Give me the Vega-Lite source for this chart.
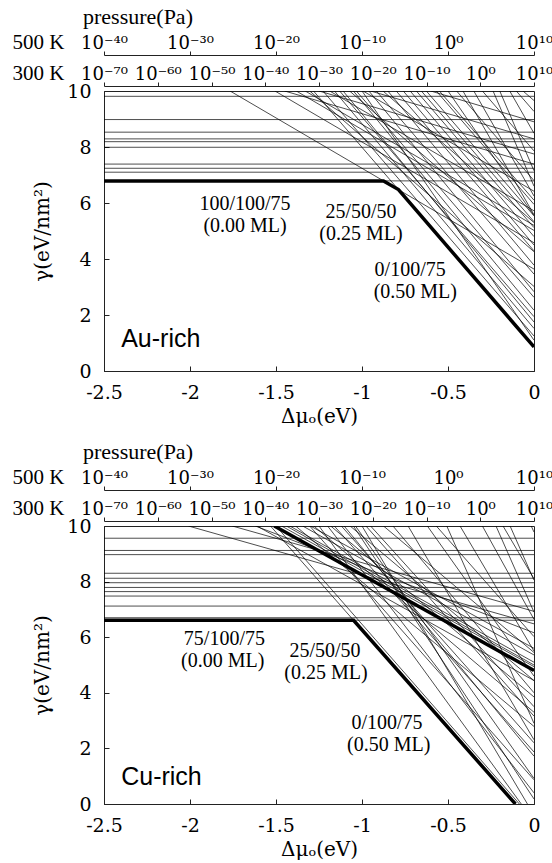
{
"$schema":"https://vega.github.io/schema/vega-lite/v6.json",
"padding":{"left":11,"top":5,"right":5,"bottom":0},
"background":"white",
"spacing":13,
"config":{
 "view":{"stroke":"#222","strokeWidth":1},
 "axis":{"grid":false,"domainColor":"#222","tickColor":"#222","labelColor":"black","titleColor":"black","labelFont":"DejaVu Serif","labelFontSize":19,"titleFont":"DejaVu Serif","titleFontSize":20,"titleFontWeight":"normal","domainWidth":1,"tickWidth":1},
 "title":{"font":"Liberation Serif","fontSize":22,"fontWeight":"normal","color":"black"}
},
"datasets":{
 "p500":[{"p":-40},{"p":10}],
 "p300":[{"p":-70},{"p":10}],
 "topThin":[
  {"id":"h1","dmu":-2.5,"gamma":9.81},{"id":"h1","dmu":0,"gamma":9.81},
  {"id":"h2","dmu":-2.5,"gamma":8.98},{"id":"h2","dmu":0,"gamma":8.98},
  {"id":"h3","dmu":-2.5,"gamma":8.53},{"id":"h3","dmu":0,"gamma":8.53},
  {"id":"h4","dmu":-2.5,"gamma":8.29},{"id":"h4","dmu":0,"gamma":8.29},
  {"id":"h5","dmu":-2.5,"gamma":8.19},{"id":"h5","dmu":0,"gamma":8.19},
  {"id":"h6","dmu":-2.5,"gamma":7.99},{"id":"h6","dmu":0,"gamma":7.99},
  {"id":"h7","dmu":-2.5,"gamma":7.39},{"id":"h7","dmu":0,"gamma":7.39},
  {"id":"h8","dmu":-2.5,"gamma":7.24},{"id":"h8","dmu":0,"gamma":7.24},
  {"id":"h9","dmu":-2.5,"gamma":7.10},{"id":"h9","dmu":0,"gamma":7.10},
  {"id":"L0","dmu":-2.5,"gamma":6.79},{"id":"L0","dmu":0,"gamma":6.79},
  {"id":"L1","dmu":-1.767,"gamma":10},{"id":"L1","dmu":0,"gamma":3.64},
  {"id":"L2","dmu":-1.282,"gamma":10},{"id":"L2","dmu":0,"gamma":0.86},
  {"id":"s1","dmu":-1.506,"gamma":10},{"id":"s1","dmu":0,"gamma":4.58},
  {"id":"s2","dmu":-1.382,"gamma":10},{"id":"s2","dmu":0,"gamma":5.02},
  {"id":"s3","dmu":-1.304,"gamma":10},{"id":"s3","dmu":0,"gamma":3.02},
  {"id":"s4","dmu":-1.227,"gamma":10},{"id":"s4","dmu":0,"gamma":1.25},
  {"id":"s5","dmu":-1.188,"gamma":10},{"id":"s5","dmu":0,"gamma":5.72},
  {"id":"s6","dmu":-1.130,"gamma":10},{"id":"s6","dmu":0,"gamma":1.94},
  {"id":"s7","dmu":-1.072,"gamma":10},{"id":"s7","dmu":0,"gamma":4.26},
  {"id":"s8","dmu":-1.033,"gamma":10},{"id":"s8","dmu":0,"gamma":2.63},
  {"id":"s9","dmu":-0.994,"gamma":10},{"id":"s9","dmu":0,"gamma":6.42},
  {"id":"s10","dmu":-0.917,"gamma":10},{"id":"s10","dmu":0,"gamma":3.46},
  {"id":"s11","dmu":-0.878,"gamma":10},{"id":"s11","dmu":0,"gamma":5.30},
  {"id":"s12","dmu":-0.801,"gamma":10},{"id":"s12","dmu":0,"gamma":4.29},
  {"id":"s13","dmu":-0.684,"gamma":10},{"id":"s13","dmu":0,"gamma":5.12},
  {"id":"s14","dmu":-0.655,"gamma":10},{"id":"s14","dmu":0,"gamma":5.33},
  {"id":"s15","dmu":-0.626,"gamma":10},{"id":"s15","dmu":0,"gamma":5.54},
  {"id":"s16","dmu":-0.568,"gamma":10},{"id":"s16","dmu":0,"gamma":5.95},
  {"id":"s17","dmu":-0.500,"gamma":10},{"id":"s17","dmu":0,"gamma":5.55},
  {"id":"s18","dmu":-0.413,"gamma":10},{"id":"s18","dmu":0,"gamma":5.58},
  {"id":"s19","dmu":-0.238,"gamma":10},{"id":"s19","dmu":0,"gamma":6.60},
  {"id":"s20","dmu":-0.199,"gamma":10},{"id":"s20","dmu":0,"gamma":7.15},
  {"id":"s21","dmu":-0.141,"gamma":10},{"id":"s21","dmu":0,"gamma":8.49},
  {"id":"s22","dmu":-0.103,"gamma":10},{"id":"s22","dmu":0,"gamma":9.27},
  {"id":"s23","dmu":-0.064,"gamma":10},{"id":"s23","dmu":0,"gamma":9.66},
  {"id":"s24","dmu":-1.000,"gamma":10},{"id":"s24","dmu":0,"gamma":1.10},
  {"id":"s25","dmu":-1.160,"gamma":10},{"id":"s25","dmu":0,"gamma":1.52},
  {"id":"s26","dmu":-1.110,"gamma":10},{"id":"s26","dmu":0,"gamma":1.75},
  {"id":"s27","dmu":-1.050,"gamma":10},{"id":"s27","dmu":0,"gamma":2.17},
  {"id":"s28","dmu":-0.960,"gamma":10},{"id":"s28","dmu":0,"gamma":2.83},
  {"id":"s29","dmu":-0.850,"gamma":10},{"id":"s29","dmu":0,"gamma":3.78},
  {"id":"s30","dmu":-0.760,"gamma":10},{"id":"s30","dmu":0,"gamma":4.50},
  {"id":"s31","dmu":-0.720,"gamma":10},{"id":"s31","dmu":0,"gamma":4.80},
  {"id":"s32","dmu":-1.450,"gamma":10},{"id":"s32","dmu":0,"gamma":7.39},
  {"id":"s33","dmu":-1.330,"gamma":10},{"id":"s33","dmu":0,"gamma":5.20},
  {"id":"s34","dmu":-1.250,"gamma":10},{"id":"s34","dmu":0,"gamma":7.75},
  {"id":"s35","dmu":-0.950,"gamma":10},{"id":"s35","dmu":0,"gamma":8.29},
  {"id":"s36","dmu":-0.600,"gamma":10},{"id":"s36","dmu":0,"gamma":8.90},
  {"id":"s37","dmu":-0.450,"gamma":10},{"id":"s37","dmu":0,"gamma":6.80},
  {"id":"s38","dmu":-0.350,"gamma":10},{"id":"s38","dmu":0,"gamma":6.25},
  {"id":"s39","dmu":-0.300,"gamma":10},{"id":"s39","dmu":0,"gamma":7.86},
  {"id":"s40","dmu":-0.550,"gamma":10},{"id":"s40","dmu":0,"gamma":6.10}
 ],
 "topThick":[
  {"id":"hull","dmu":-2.5,"gamma":6.79},{"id":"hull","dmu":-0.875,"gamma":6.79},{"id":"hull","dmu":-0.788,"gamma":6.48},{"id":"hull","dmu":0,"gamma":0.86}
 ],
 "topText":[
  {"t":"100/100/75","dmu":-1.68,"gamma":5.75},
  {"t":"(0.00 ML)","dmu":-1.68,"gamma":4.97},
  {"t":"25/50/50","dmu":-1.006,"gamma":5.45},
  {"t":"(0.25 ML)","dmu":-1.006,"gamma":4.67},
  {"t":"0/100/75","dmu":-0.72,"gamma":3.38},
  {"t":"(0.50 ML)","dmu":-0.69,"gamma":2.60}
 ],
 "botThin":[
  {"id":"h1","dmu":-2.5,"gamma":9.56},{"id":"h1","dmu":0,"gamma":9.56},
  {"id":"h2","dmu":-2.5,"gamma":9.12},{"id":"h2","dmu":0,"gamma":9.12},
  {"id":"h3","dmu":-2.5,"gamma":8.97},{"id":"h3","dmu":0,"gamma":8.97},
  {"id":"h4","dmu":-2.5,"gamma":8.30},{"id":"h4","dmu":0,"gamma":8.30},
  {"id":"h5","dmu":-2.5,"gamma":8.12},{"id":"h5","dmu":0,"gamma":8.12},
  {"id":"h6","dmu":-2.5,"gamma":7.96},{"id":"h6","dmu":0,"gamma":7.96},
  {"id":"h7","dmu":-2.5,"gamma":7.79},{"id":"h7","dmu":0,"gamma":7.79},
  {"id":"h8","dmu":-2.5,"gamma":7.64},{"id":"h8","dmu":0,"gamma":7.64},
  {"id":"h9","dmu":-2.5,"gamma":7.48},{"id":"h9","dmu":0,"gamma":7.48},
  {"id":"h10","dmu":-2.5,"gamma":7.12},{"id":"h10","dmu":0,"gamma":7.12},
  {"id":"h11","dmu":-2.5,"gamma":6.70},{"id":"h11","dmu":0,"gamma":6.70},
  {"id":"L0","dmu":-2.5,"gamma":6.61},{"id":"L0","dmu":0,"gamma":6.61},
  {"id":"L2","dmu":-1.532,"gamma":10},{"id":"L2","dmu":-0.108,"gamma":0},
  {"id":"L2b","dmu":-1.50,"gamma":10},{"id":"L2b","dmu":-0.085,"gamma":0},
  {"id":"b1","dmu":-2.009,"gamma":10},{"id":"b1","dmu":0,"gamma":6.48},
  {"id":"b2","dmu":-1.754,"gamma":10},{"id":"b2","dmu":0,"gamma":6.93},
  {"id":"b3","dmu":-1.611,"gamma":10},{"id":"b3","dmu":0,"gamma":4.44},
  {"id":"b4","dmu":-1.468,"gamma":10},{"id":"b4","dmu":0,"gamma":4.94},
  {"id":"b5","dmu":-1.386,"gamma":10},{"id":"b5","dmu":0,"gamma":2.79},
  {"id":"b6","dmu":-1.345,"gamma":10},{"id":"b6","dmu":0,"gamma":5.36},
  {"id":"b7","dmu":-1.304,"gamma":10},{"id":"b7","dmu":0,"gamma":0.87},
  {"id":"b8","dmu":-1.182,"gamma":10},{"id":"b8","dmu":0,"gamma":3.85},
  {"id":"b9","dmu":-1.161,"gamma":10},{"id":"b9","dmu":0,"gamma":1.87},
  {"id":"b10","dmu":-1.104,"gamma":10},{"id":"b10","dmu":0,"gamma":1.72},
  {"id":"b11","dmu":-1.069,"gamma":10},{"id":"b11","dmu":0,"gamma":4.44},
  {"id":"b12","dmu":-1.038,"gamma":10},{"id":"b12","dmu":0,"gamma":0.92},
  {"id":"b13","dmu":-0.977,"gamma":10},{"id":"b13","dmu":0,"gamma":3.16},
  {"id":"b14","dmu":-0.875,"gamma":10},{"id":"b14","dmu":0,"gamma":5.45},
  {"id":"b15","dmu":-0.732,"gamma":10},{"id":"b15","dmu":0,"gamma":2.31},
  {"id":"b16","dmu":-0.568,"gamma":10},{"id":"b16","dmu":0,"gamma":6.02},
  {"id":"b17","dmu":-0.507,"gamma":10},{"id":"b17","dmu":0,"gamma":2.90},
  {"id":"b18","dmu":-0.221,"gamma":10},{"id":"b18","dmu":0,"gamma":6.90},
  {"id":"b19","dmu":-0.180,"gamma":10},{"id":"b19","dmu":0,"gamma":8.10},
  {"id":"b20","dmu":-0.139,"gamma":10},{"id":"b20","dmu":0,"gamma":8.05},
  {"id":"b21","dmu":-0.016,"gamma":10},{"id":"b21","dmu":0,"gamma":9.78},
  {"id":"b22","dmu":-1.25,"gamma":10},{"id":"b22","dmu":-0.074,"gamma":0},
  {"id":"b23","dmu":-1.0,"gamma":10},{"id":"b23","dmu":-0.038,"gamma":0},
  {"id":"b24","dmu":-1.2,"gamma":10},{"id":"b24","dmu":0,"gamma":0.40},
  {"id":"b25","dmu":-1.05,"gamma":10},{"id":"b25","dmu":0,"gamma":0.18},
  {"id":"b26","dmu":-1.42,"gamma":10},{"id":"b26","dmu":0,"gamma":5.10},
  {"id":"b27","dmu":-1.44,"gamma":10},{"id":"b27","dmu":0,"gamma":5.00},
  {"id":"b28","dmu":-1.30,"gamma":10},{"id":"b28","dmu":0,"gamma":5.60},
  {"id":"b29","dmu":-1.12,"gamma":10},{"id":"b29","dmu":0,"gamma":2.20},
  {"id":"b30","dmu":-0.95,"gamma":10},{"id":"b30","dmu":0,"gamma":3.50},
  {"id":"b31","dmu":-0.82,"gamma":10},{"id":"b31","dmu":0,"gamma":4.00},
  {"id":"b32","dmu":-1.28,"gamma":10},{"id":"b32","dmu":0,"gamma":3.30},
  {"id":"b33","dmu":-0.62,"gamma":10},{"id":"b33","dmu":0,"gamma":4.60},
  {"id":"b34","dmu":-0.43,"gamma":10},{"id":"b34","dmu":0,"gamma":5.50},
  {"id":"b35","dmu":-1.62,"gamma":10},{"id":"b35","dmu":0,"gamma":6.16},
  {"id":"b36","dmu":-0.30,"gamma":10},{"id":"b36","dmu":0,"gamma":6.64}
 ],
 "botThick":[
  {"id":"hull","dmu":-2.5,"gamma":6.61},{"id":"hull","dmu":-1.049,"gamma":6.61},{"id":"hull","dmu":-0.108,"gamma":0},
  {"id":"L1","dmu":-1.51,"gamma":10},{"id":"L1","dmu":0,"gamma":4.8}
 ],
 "botText":[
  {"t":"75/100/75","dmu":-1.80,"gamma":5.72},
  {"t":"(0.00 ML)","dmu":-1.81,"gamma":4.94},
  {"t":"25/50/50","dmu":-1.215,"gamma":5.28},
  {"t":"(0.25 ML)","dmu":-1.21,"gamma":4.50},
  {"t":"0/100/75","dmu":-0.855,"gamma":2.70},
  {"t":"(0.50 ML)","dmu":-0.845,"gamma":1.92}
 ]
},
"vconcat":[
 {
  "width":430,"height":280,
  "title":{"text":"pressure(Pa)","anchor":"start","frame":"group","dx":-21,"offset":2},
  "layer":[
   {"data":{"name":"topThin"},"mark":{"type":"line","stroke":"black","strokeWidth":0.7,"clip":true},
    "encoding":{
     "x":{"field":"dmu","type":"quantitative","scale":{"domain":[-2.5,0],"nice":false,"zero":false},
      "axis":{"orient":"bottom","values":[-2.5,-2,-1.5,-1,-0.5,0],"labelExpr":"toString(datum.value)","tickSize":-5,"labelPadding":17,"labelFlush":false,"title":"Δμₒ(eV)","titlePadding":4}},
     "y":{"field":"gamma","type":"quantitative","scale":{"domain":[0,10],"nice":false,"zero":false},
      "axis":{"orient":"left","values":[0,2,4,6,8,10],"tickSize":-5,"labelPadding":18,"title":"γ(eV/nm²)","titlePadding":14}},
     "detail":{"field":"id"}}},
   {"data":{"name":"topThick"},"mark":{"type":"line","stroke":"black","strokeWidth":3.5,"clip":true},
    "encoding":{
     "x":{"field":"dmu","type":"quantitative","scale":{"domain":[-2.5,0],"nice":false,"zero":false},"axis":null},
     "y":{"field":"gamma","type":"quantitative"},
     "detail":{"field":"id"}}},
   {"data":{"name":"topText"},"mark":{"type":"text","font":"Liberation Serif","fontSize":20,"align":"center","baseline":"alphabetic","color":"black"},
    "encoding":{
     "x":{"field":"dmu","type":"quantitative","scale":{"domain":[-2.5,0],"nice":false,"zero":false},"axis":null},
     "y":{"field":"gamma","type":"quantitative"},
     "text":{"field":"t"}}},
   {"data":{"values":[{"t":"Au-rich","dmu":-2.4,"gamma":0.86}]},"mark":{"type":"text","font":"Liberation Sans","fontSize":25,"align":"left","baseline":"alphabetic","color":"black"},
    "encoding":{
     "x":{"field":"dmu","type":"quantitative","scale":{"domain":[-2.5,0],"nice":false,"zero":false},"axis":null},
     "y":{"field":"gamma","type":"quantitative"},
     "text":{"field":"t"}}},
   {"data":{"name":"p500"},"mark":{"type":"point","opacity":0},
    "encoding":{
     "y":{"datum":5,"type":"quantitative"},
     "x":{"field":"p","type":"quantitative","scale":{"domain":[-40,10],"nice":false,"zero":false},
      "axis":{"orient":"top","offset":36,"values":[-40,-30,-20,-10,0,10],
       "labelExpr":"datum.value==-40?'10⁻⁴⁰':datum.value==-30?'10⁻³⁰':datum.value==-20?'10⁻²⁰':datum.value==-10?'10⁻¹⁰':datum.value==0?'10⁰':'10¹⁰'",
       "labelFont":"DejaVu Serif","labelFontSize":18,"labelBaseline":"alphabetic","labelPadding":3,"tickSize":4,"labelFlush":false,"labelOverlap":false,
       "title":"500 K","titleFont":"Liberation Serif","titleFontSize":21,"titleAngle":0,"titleAlign":"right","titleBaseline":"alphabetic","titleX":-40,"titleY":-7}}}},
   {"data":{"name":"p300"},"mark":{"type":"point","opacity":0},
    "encoding":{
     "y":{"datum":5,"type":"quantitative"},
     "x":{"field":"p","type":"quantitative","scale":{"domain":[-70,10],"nice":false,"zero":false},
      "axis":{"orient":"top","offset":5,"values":[-70,-60,-50,-40,-30,-20,-10,0,10],
       "labelExpr":"datum.value==-70?'10⁻⁷⁰':datum.value==-60?'10⁻⁶⁰':datum.value==-50?'10⁻⁵⁰':datum.value==-40?'10⁻⁴⁰':datum.value==-30?'10⁻³⁰':datum.value==-20?'10⁻²⁰':datum.value==-10?'10⁻¹⁰':datum.value==0?'10⁰':'10¹⁰'",
       "labelFont":"DejaVu Serif","labelFontSize":18,"labelBaseline":"alphabetic","labelPadding":3,"tickSize":4,"labelFlush":false,"labelOverlap":false,
       "title":"300 K","titleFont":"Liberation Serif","titleFontSize":21,"titleAngle":0,"titleAlign":"right","titleBaseline":"alphabetic","titleX":-40,"titleY":-7}}}}
  ],
  "resolve":{"scale":{"x":"independent"},"axis":{"x":"independent"}}
 },
 {
  "width":430,"height":278,
  "title":{"text":"pressure(Pa)","anchor":"start","frame":"group","dx":-21,"offset":2},
  "layer":[
   {"data":{"name":"botThin"},"mark":{"type":"line","stroke":"black","strokeWidth":0.7,"clip":true},
    "encoding":{
     "x":{"field":"dmu","type":"quantitative","scale":{"domain":[-2.5,0],"nice":false,"zero":false},
      "axis":{"orient":"bottom","values":[-2.5,-2,-1.5,-1,-0.5,0],"labelExpr":"toString(datum.value)","tickSize":-5,"labelPadding":17,"labelFlush":false,"title":"Δμₒ(eV)","titlePadding":4}},
     "y":{"field":"gamma","type":"quantitative","scale":{"domain":[0,10],"nice":false,"zero":false},
      "axis":{"orient":"left","values":[0,2,4,6,8,10],"tickSize":-5,"labelPadding":18,"title":"γ(eV/nm²)","titlePadding":14}},
     "detail":{"field":"id"}}},
   {"data":{"name":"botThick"},"mark":{"type":"line","stroke":"black","strokeWidth":3.5,"clip":true},
    "encoding":{
     "x":{"field":"dmu","type":"quantitative","scale":{"domain":[-2.5,0],"nice":false,"zero":false},"axis":null},
     "y":{"field":"gamma","type":"quantitative"},
     "detail":{"field":"id"}}},
   {"data":{"name":"botText"},"mark":{"type":"text","font":"Liberation Serif","fontSize":20,"align":"center","baseline":"alphabetic","color":"black"},
    "encoding":{
     "x":{"field":"dmu","type":"quantitative","scale":{"domain":[-2.5,0],"nice":false,"zero":false},"axis":null},
     "y":{"field":"gamma","type":"quantitative"},
     "text":{"field":"t"}}},
   {"data":{"values":[{"t":"Cu-rich","dmu":-2.4,"gamma":0.70}]},"mark":{"type":"text","font":"Liberation Sans","fontSize":25,"align":"left","baseline":"alphabetic","color":"black"},
    "encoding":{
     "x":{"field":"dmu","type":"quantitative","scale":{"domain":[-2.5,0],"nice":false,"zero":false},"axis":null},
     "y":{"field":"gamma","type":"quantitative"},
     "text":{"field":"t"}}},
   {"data":{"name":"p500"},"mark":{"type":"point","opacity":0},
    "encoding":{
     "y":{"datum":5,"type":"quantitative"},
     "x":{"field":"p","type":"quantitative","scale":{"domain":[-40,10],"nice":false,"zero":false},
      "axis":{"orient":"top","offset":36,"values":[-40,-30,-20,-10,0,10],
       "labelExpr":"datum.value==-40?'10⁻⁴⁰':datum.value==-30?'10⁻³⁰':datum.value==-20?'10⁻²⁰':datum.value==-10?'10⁻¹⁰':datum.value==0?'10⁰':'10¹⁰'",
       "labelFont":"DejaVu Serif","labelFontSize":18,"labelBaseline":"alphabetic","labelPadding":3,"tickSize":4,"labelFlush":false,"labelOverlap":false,
       "title":"500 K","titleFont":"Liberation Serif","titleFontSize":21,"titleAngle":0,"titleAlign":"right","titleBaseline":"alphabetic","titleX":-40,"titleY":-7}}}},
   {"data":{"name":"p300"},"mark":{"type":"point","opacity":0},
    "encoding":{
     "y":{"datum":5,"type":"quantitative"},
     "x":{"field":"p","type":"quantitative","scale":{"domain":[-70,10],"nice":false,"zero":false},
      "axis":{"orient":"top","offset":5,"values":[-70,-60,-50,-40,-30,-20,-10,0,10],
       "labelExpr":"datum.value==-70?'10⁻⁷⁰':datum.value==-60?'10⁻⁶⁰':datum.value==-50?'10⁻⁵⁰':datum.value==-40?'10⁻⁴⁰':datum.value==-30?'10⁻³⁰':datum.value==-20?'10⁻²⁰':datum.value==-10?'10⁻¹⁰':datum.value==0?'10⁰':'10¹⁰'",
       "labelFont":"DejaVu Serif","labelFontSize":18,"labelBaseline":"alphabetic","labelPadding":3,"tickSize":4,"labelFlush":false,"labelOverlap":false,
       "title":"300 K","titleFont":"Liberation Serif","titleFontSize":21,"titleAngle":0,"titleAlign":"right","titleBaseline":"alphabetic","titleX":-40,"titleY":-7}}}}
  ],
  "resolve":{"scale":{"x":"independent"},"axis":{"x":"independent"}}
 }
]
}
